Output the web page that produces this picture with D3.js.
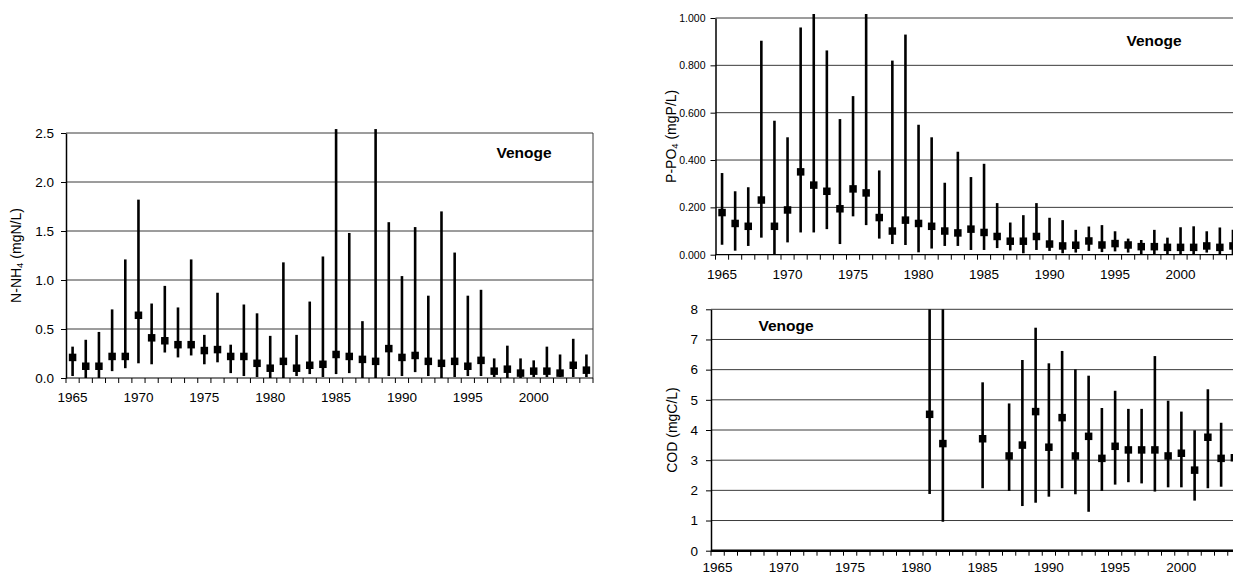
<!DOCTYPE html>
<html>
<head>
<meta charset="utf-8">
<script src="https://cdn.jsdelivr.net/npm/d3@7"></script>
<style>
  body { margin: 0; background: #fff; }
  svg { display: block; font-family: Arial, "Liberation Sans", sans-serif; }
</style>
</head>
<body>
<div id="chart"></div>
<script>
// categories
var years = [1965, 1966, 1967, 1968, 1969, 1970, 1971, 1972, 1973, 1974,
             1975, 1976, 1977, 1978, 1979, 1980, 1981, 1982, 1983, 1984,
             1985, 1986, 1987, 1988, 1989, 1990, 1991, 1992, 1993, 1994,
             1995, 1996, 1997, 1998, 1999, 2000, 2001, 2002, 2003, 2004];
var labelYears = [1965, 1970, 1975, 1980, 1985, 1990, 1995, 2000];

// N-NH4 (mgN/L): mean, min, max
var nh4Mean = [0.21, 0.12, 0.12, 0.22, 0.22, 0.64, 0.41, 0.38, 0.34, 0.34,
               0.28, 0.29, 0.22, 0.22, 0.15, 0.10, 0.17, 0.10, 0.13, 0.14,
               0.24, 0.22, 0.19, 0.17, 0.30, 0.21, 0.23, 0.17, 0.15, 0.17,
               0.12, 0.18, 0.07, 0.09, 0.05, 0.07, 0.07, 0.05, 0.13, 0.08];
var nh4Low  = [0.02, 0.00, 0.00, 0.07, 0.10, 0.15, 0.14, 0.26, 0.21, 0.23,
               0.14, 0.16, 0.05, 0.02, 0.01, 0.00, 0.00, 0.02, 0.04, 0.01,
               0.04, 0.05, 0.00, 0.00, 0.02, 0.02, 0.06, 0.02, 0.00, 0.01,
               0.02, 0.02, 0.01, 0.00, 0.00, 0.01, 0.01, 0.01, 0.01, 0.01];
var nh4High = [0.32, 0.39, 0.47, 0.70, 1.21, 1.82, 0.76, 0.94, 0.72, 1.21,
               0.44, 0.87, 0.34, 0.75, 0.66, 0.43, 1.18, 0.44, 0.78, 1.24,
               2.54, 1.48, 0.58, 2.54, 1.59, 1.04, 1.54, 0.84, 1.70, 1.28,
               0.84, 0.90, 0.20, 0.33, 0.20, 0.18, 0.32, 0.24, 0.40, 0.24];

// P-PO4 (mgP/L)
var po4Mean = [0.178, 0.132, 0.120, 0.231, 0.120, 0.189, 0.350, 0.294, 0.268, 0.194,
               0.278, 0.261, 0.157, 0.100, 0.146, 0.132, 0.120, 0.100, 0.092, 0.108,
               0.094, 0.077, 0.057, 0.057, 0.077, 0.045, 0.037, 0.040, 0.058, 0.041,
               0.047, 0.041, 0.034, 0.034, 0.031, 0.031, 0.031, 0.037, 0.031, 0.037];
var po4Low  = [0.042, 0.017, 0.037, 0.072, 0.000, 0.052, 0.094, 0.094, 0.108, 0.045,
               0.162, 0.125, 0.068, 0.045, 0.041, 0.010, 0.026, 0.037, 0.037, 0.020,
               0.020, 0.028, 0.018, 0.006, 0.020, 0.016, 0.006, 0.009, 0.016, 0.011,
               0.014, 0.009, 0.003, 0.003, 0.003, 0.003, 0.003, 0.009, 0.003, 0.003];
var po4High = [0.345, 0.268, 0.285, 0.904, 0.566, 0.496, 0.960, 1.017, 0.863, 0.573,
               0.670, 1.017, 0.356, 0.820, 0.930, 0.549, 0.496, 0.304, 0.435, 0.328,
               0.384, 0.218, 0.136, 0.167, 0.218, 0.156, 0.146, 0.105, 0.119, 0.125,
               0.099, 0.068, 0.062, 0.105, 0.072, 0.116, 0.120, 0.099, 0.115, 0.105];

// COD (mgC/L), no data before 1981
var codMean = [null, null, null, null, null, null, null, null, null, null,
               null, null, null, null, null, null, 4.52, 3.55, null, null,
               3.71, null, 3.14, 3.50, 4.61, 3.43, 4.41, 3.14, 3.79, 3.06,
               3.46, 3.34, 3.34, 3.34, 3.14, 3.23, 2.67, 3.76, 3.06, 3.08];
var codLow  = [null, null, null, null, null, null, null, null, null, null,
               null, null, null, null, null, null, 1.88, 0.96, null, null,
               2.07, null, 1.98, 1.48, 1.59, 1.79, 2.07, 1.87, 1.29, 1.98,
               2.19, 2.27, 2.23, 1.96, 2.10, 2.10, 1.66, 2.07, 2.12, 2.10];
var codHigh = [null, null, null, null, null, null, null, null, null, null,
               null, null, null, null, null, null, 8.00, 8.00, null, null,
               5.58, null, 4.88, 6.32, 7.39, 6.21, 6.62, 6.01, 5.80, 4.73,
               5.30, 4.70, 4.70, 6.45, 4.97, 4.61, 3.99, 5.35, 4.24, 4.30];

var nh4Ticks = [0, 0.5, 1.0, 1.5, 2.0, 2.5];
var po4Ticks = [0, 0.2, 0.4, 0.6, 0.8, 1.0];
var codTicks = [0, 1, 2, 3, 4, 5, 6, 7, 8];

var svg = d3.select("#chart").append("svg")
  .attr("width", 1233)
  .attr("height", 574);

function drawPanel(p) {
  var g = svg.append("g");

  var x = d3.scaleBand().domain(years).range([p.x0, p.x1]);
  var y = d3.scaleLinear().domain([0, p.yMax]).range([p.yBottom, p.yTop]);

  // horizontal gridlines
  g.selectAll("line.grid")
    .data(p.ticks.filter(t => t > 0))
    .enter().append("line")
    .attr("class", "grid")
    .attr("x1", p.x0).attr("x2", p.x1)
    .attr("y1", d => y(d)).attr("y2", d => y(d))
    .attr("stroke", "#3a3a3a")
    .attr("stroke-width", 1);

  // right border of the plot area (left panel only)
  if (p.border) {
    g.append("line")
      .attr("x1", p.x1).attr("x2", p.x1)
      .attr("y1", y(p.yMax)).attr("y2", y(0))
      .attr("stroke", "#3a3a3a").attr("stroke-width", 1);
  }

  // y axis
  var yAxis = g.append("g")
    .attr("transform", `translate(${p.x0},0)`)
    .call(d3.axisLeft(y).tickValues(p.ticks).tickSize(5).tickSizeOuter(0)
      .tickPadding(p.yPad).tickFormat(p.fmt));
  yAxis.select(".domain").attr("stroke", "#000").attr("stroke-width", 1.5);
  yAxis.selectAll(".tick line").attr("stroke", "#000");
  yAxis.selectAll("text").attr("fill", "#000").style("font-size", p.yFont);
  yAxis.attr("font-family", null);

  // x axis line
  g.append("line")
    .attr("x1", p.x0).attr("x2", p.x1)
    .attr("y1", y(0)).attr("y2", y(0))
    .attr("stroke", "#000").attr("stroke-width", p.xAxisWidth);

  // tick marks between categories
  var bounds = years.map(d => x(d)).concat([p.x1]);
  g.selectAll("line.xtick")
    .data(bounds)
    .enter().append("line")
    .attr("class", "xtick")
    .attr("x1", d => d).attr("x2", d => d)
    .attr("y1", y(0)).attr("y2", y(0) + 5)
    .attr("stroke", "#000").attr("stroke-width", 1);

  // year labels
  g.selectAll("text.xlab")
    .data(labelYears)
    .enter().append("text")
    .attr("class", "xlab")
    .attr("x", d => x(d) + x.bandwidth() / 2)
    .attr("y", y(0) + p.labelDy)
    .attr("text-anchor", "middle")
    .style("font-size", "13.5px")
    .text(d => d);

  // min-max bars and mean squares
  var pts = years.map((yr, i) => ({year: yr, mean: p.mean[i], low: p.low[i], high: p.high[i]}))
    .filter(d => d.mean != null);

  g.selectAll("line.bar")
    .data(pts)
    .enter().append("line")
    .attr("class", "bar")
    .attr("x1", d => x(d.year) + x.bandwidth() / 2)
    .attr("x2", d => x(d.year) + x.bandwidth() / 2)
    .attr("y1", d => y(d.low))
    .attr("y2", d => y(d.high))
    .attr("stroke", "#000")
    .attr("stroke-width", 2.6);

  var s = 7.5;
  g.selectAll("rect.mean")
    .data(pts)
    .enter().append("rect")
    .attr("class", "mean")
    .attr("x", d => x(d.year) + x.bandwidth() / 2 - s / 2)
    .attr("y", d => y(d.mean) - s / 2)
    .attr("width", s).attr("height", s)
    .attr("fill", "#000");

  // y axis title with subscript
  var t = g.append("text")
    .attr("transform", `translate(${p.titleX},${(p.yTop + p.yBottom) / 2}) rotate(-90)`)
    .attr("text-anchor", "middle")
    .style("font-size", "14px");
  t.append("tspan").text(p.titleA);
  if (p.titleSub) {
    t.append("tspan").text(p.titleSub).attr("dy", 2).style("font-size", "9.5px");
    t.append("tspan").text(p.titleB).attr("dy", -2);
  } else {
    t.append("tspan").text(p.titleB);
  }

  // station name
  g.append("text")
    .attr("x", p.nameX).attr("y", p.nameY)
    .attr("text-anchor", "middle")
    .style("font-size", "15.5px")
    .style("font-weight", "bold")
    .text("Venoge");
}

drawPanel({
  x0: 66, x1: 593, yTop: 133, yBottom: 378, yMax: 2.5,
  ticks: nh4Ticks, fmt: d3.format(".1f"), yFont: "13.5px", yPad: 7,
  mean: nh4Mean, low: nh4Low, high: nh4High,
  border: true, xAxisWidth: 1.2, labelDy: 24,
  titleX: 21, titleA: "N-NH", titleSub: "4", titleB: " (mgN/L)",
  nameX: 524, nameY: 158
});

drawPanel({
  x0: 715.5, x1: 1239.5, yTop: 18, yBottom: 254.7, yMax: 1.0,
  ticks: po4Ticks, fmt: d3.format(".3f"), yFont: "10.5px", yPad: 5,
  mean: po4Mean, low: po4Low, high: po4High,
  border: false, xAxisWidth: 1.2, labelDy: 24.5,
  titleX: 675.5, titleA: "P-PO", titleSub: "4", titleB: " (mgP/L)",
  nameX: 1154, nameY: 46
});

drawPanel({
  x0: 711, x1: 1241, yTop: 309.3, yBottom: 550.7, yMax: 8,
  ticks: codTicks, fmt: d3.format("d"), yFont: "13.5px", yPad: 8,
  mean: codMean, low: codLow, high: codHigh,
  border: false, xAxisWidth: 2.6, labelDy: 21,
  titleX: 677, titleA: "COD (mgC/L)", titleSub: null, titleB: "",
  nameX: 786, nameY: 331
});
</script>
</body>
</html>
